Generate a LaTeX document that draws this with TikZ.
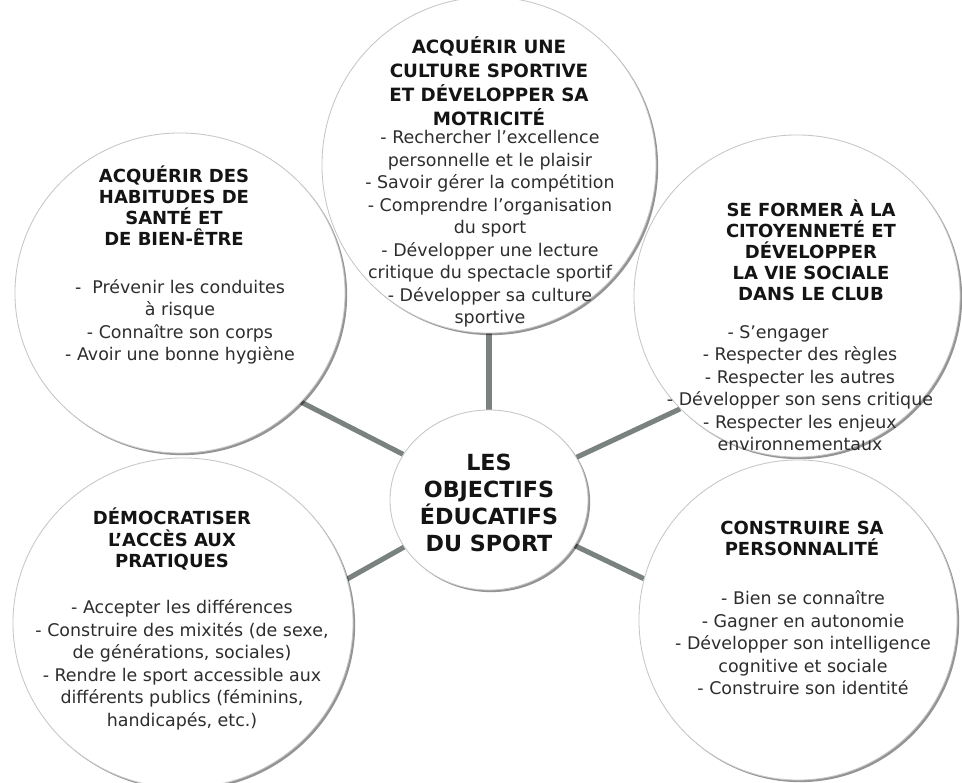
\documentclass[tikz,border=0pt]{standalone}
\usepackage{fontspec}
\setmainfont{DejaVu Sans}
\usetikzlibrary{shapes.geometric,shadows,backgrounds}

\definecolor{linkgray}{RGB}{122,130,127}
\definecolor{headtxt}{RGB}{20,20,20}
\definecolor{bodytxt}{RGB}{45,45,45}

\tikzset{
    bubble/.style={ellipse, draw=gray!45, line width=0.6pt, fill=white, inner sep=0pt,
        drop shadow={shadow xshift=1.5pt, shadow yshift=-1.5pt, fill=black, opacity=0.42}},
    headtext/.style={align=center, inner sep=0pt, text=headtxt,
        font=\bfseries\fontsize{12.8}{15}\selectfont},
    bodytext/.style={align=center, inner sep=0pt, text=bodytxt,
        font=\fontsize{12.4}{16}\selectfont},
    link/.style={draw=linkgray, line width=3.6pt},
}

\begin{document}
\begin{tikzpicture}[x=0.025cm, y=-0.025cm]
            \useasboundingbox (0, 0) rectangle (962, 783);

            %%bubbles
            \node[bubble, minimum width=8.35cm, minimum height=8.4cm] (sport) at (489, 165){};
            \node[bubble, minimum width=8.25cm, minimum height=8cm] (sante) at (180, 293){};
            \node[bubble, minimum width=8.15cm, minimum height=8.05cm] (citoyen) at (797, 296){};
            \node[bubble, minimum width=8.5cm, minimum height=8.25cm] (acces) at (183, 623){};
            \node[bubble, minimum width=7.95cm, minimum height=8cm] (perso) at (798, 620){};
            \node[bubble, minimum width=4.95cm, minimum height=4.5cm] (objectifs) at (489, 500){};

            %%links
            \begin{scope}[on background layer]
                \fill[white] (0, 0) rectangle (962, 783);
                \draw[link] (objectifs.north) to (sport.south);
                \draw[link] (objectifs.152) to (sante.-42);
                \draw[link] (objectifs.26) to (citoyen.224);
                \draw[link] (objectifs.209) to (acces.15);
                \draw[link] (objectifs.-28) to (perso.165);
            \end{scope}

            %%top
            \node[headtext, font=\bfseries\fontsize{13}{17}\selectfont] (sporthead) at (489, 81)
                {ACQUÉRIR UNE\\CULTURE SPORTIVE\\ET DÉVELOPPER SA\\MOTRICITÉ};
            \node[bodytext] (sportbody) at (490, 229)
                {- Rechercher l’excellence\\personnelle et le plaisir\\- Savoir gérer la compétition\\- Comprendre l’organisation\\du sport\\- Développer une lecture\\critique du spectacle sportif\\- Développer sa culture\\sportive};

            %%upper left
            \node[headtext] (santehead) at (174, 206)
                {ACQUÉRIR DES\\HABITUDES DE\\SANTÉ ET\\DE BIEN-ÊTRE};
            \node[bodytext] (santebody) at (180, 322)
                {-\ \ Prévenir les conduites\\à risque\\- Connaître son corps\\- Avoir une bonne hygiène};

            %%upper right
            \node[headtext] (citoyenhead) at (811, 250)
                {SE FORMER À LA\\CITOYENNETÉ ET\\DÉVELOPPER\\LA VIE SOCIALE\\DANS LE CLUB};
            \node[bodytext] (citoyenbody) at (800, 388)
                {- S’engager\hspace*{1.1cm}\\- Respecter des règles\\- Respecter les autres\\- Développer son sens critique\\- Respecter les enjeux\\environnementaux};

            %%lower left
            \node[headtext] (acceshead) at (172, 539)
                {DÉMOCRATISER\\L’ACCÈS AUX\\PRATIQUES};
            \node[bodytext] (accesbody) at (182, 665)
                {- Accepter les différences\\- Construire des mixités (de sexe,\\de générations, sociales)\\- Rendre le sport accessible aux\\différents publics (féminins,\\handicapés, etc.)};

            %%lower right
            \node[headtext] (persohead) at (802, 538)
                {CONSTRUIRE SA\\PERSONNALITÉ};
            \node[bodytext] (persobody) at (803, 643)
                {- Bien se connaître\\- Gagner en autonomie\\- Développer son intelligence\\cognitive et sociale\\- Construire son identité};

            %%centre
            \node[headtext, font=\bfseries\fontsize{15.8}{19.2}\selectfont] (objectifstext) at (489, 503)
                {LES\\OBJECTIFS\\ÉDUCATIFS\\DU SPORT};
\end{tikzpicture}
\end{document}
